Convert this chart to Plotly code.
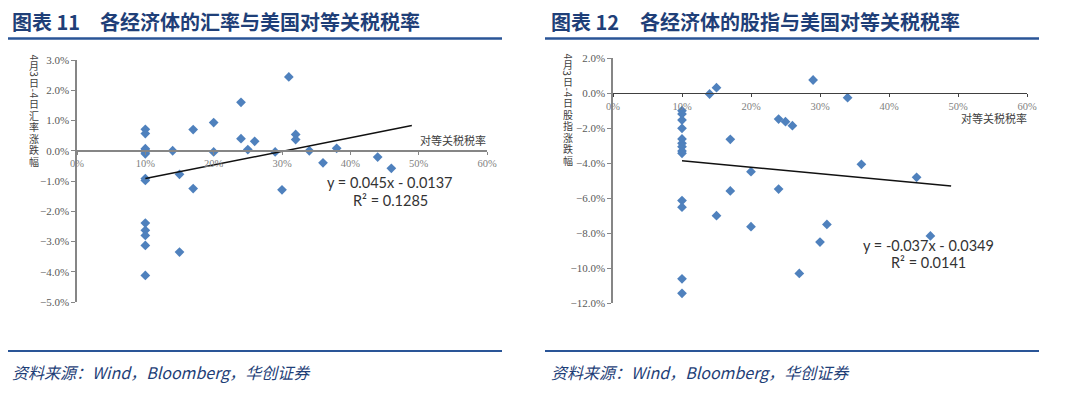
import plotly.graph_objects as go

# page body has an 8px margin: figure pixel = window pixel - 8
OFF = 8
W, H = 1072, 387

# ---------------- data (values in %) ----------------
fx_tariff = [10, 10, 10, 10, 10, 10, 10, 10, 10, 10, 10, 10, 10,
             14, 15, 15, 17, 17, 20, 20, 24, 24, 25, 26,
             29, 30, 31, 32, 32, 34, 36, 38, 44, 46]
fx_change = [0.71, 0.57, 0.07, 0.02, -0.04, -0.10, -0.92, -0.98, -2.39, -2.63, -2.80, -3.13, -4.12,
             0.00, -0.78, -3.35, 0.70, -1.25, 0.93, -0.04, 1.60, 0.40, 0.04, 0.31,
             -0.04, -1.29, 2.44, 0.54, 0.37, 0.00, -0.40, 0.08, -0.21, -0.58]

eq_tariff = [10, 10, 10, 10, 10, 10, 10, 10, 10, 10, 10, 10, 10,
             14, 15, 15, 17, 17, 20, 20, 24, 24, 25, 26, 27,
             29, 30, 31, 34, 36, 44, 46]
eq_change = [-0.99, -1.18, -1.53, -2.00, -2.61, -2.86, -3.05, -3.30, -3.43, -6.13, -6.51, -10.60, -11.43,
             -0.04, 0.32, -6.99, -2.63, -5.58, -4.48, -7.62, -1.47, -5.47, -1.62, -1.85, -10.29,
             0.76, -8.50, -7.49, -0.25, -4.06, -4.80, -8.15]

fx_fit = {"slope": 0.045, "intercept": -0.0137}
eq_fit = {"slope": -0.037, "intercept": -0.0349}
fit_span = [0.10, 0.49]

titles = ["各经济体的汇率与美国对等关税税率", "各经济体的股指与美国对等关税税率"]
title_nums = ["图表 11", "图表 12"]
ytitles = ["4月3日-4日汇率涨跌幅", "4月3日-4日股指涨跌幅"]
xtitle = "对等关税税率"
eq_texts = ["y = 0.045x - 0.0137", "y = -0.037x - 0.0349"]
r2_texts = ["R² = 0.1285", "R² = 0.0141"]
source = "资料来源：Wind，Bloomberg，华创证券"

# ---------------- layout helpers ----------------
def px_x(p):
    return (p - OFF) / W

def px_y(p):
    return 1 - (p - OFF) / H

BLUE = "#4F81BD"
NAVY = "#1F3F78"
RULE = "#2A5597"
AX = "#868686"
TXT = "#404040"

# plot domains (window pixels)
L_x = (77, 487); L_y = (60, 302)
R_x = (613, 1027); R_y = (58.3, 303.3)
L_yr = [-0.05, 0.03]
R_yr = [-0.12, 0.02]

def zero_pos(yr, ydom):
    lo, hi = ydom
    frac = (0 - yr[0]) / (yr[1] - yr[0])
    return lo + frac * (hi - lo)

Ldom_y = [px_y(L_y[1]), px_y(L_y[0])]
Rdom_y = [px_y(R_y[1]), px_y(R_y[0])]

fig = go.Figure()

fx_x = [v / 100 for v in fx_tariff]
fx_y = [v / 100 for v in fx_change]
eq_x = [v / 100 for v in eq_tariff]
eq_y = [v / 100 for v in eq_change]

mk = dict(symbol="diamond", size=7.5, color=BLUE, line=dict(width=0))
fig.add_trace(go.Scatter(x=fx_x, y=fx_y, mode="markers", marker=mk,
                         xaxis="x", yaxis="y", showlegend=False))
fig.add_trace(go.Scatter(x=fit_span,
                         y=[fx_fit["slope"] * v + fx_fit["intercept"] for v in fit_span],
                         mode="lines", line=dict(color="#111111", width=1.5),
                         xaxis="x", yaxis="y", showlegend=False))
fig.add_trace(go.Scatter(x=eq_x, y=eq_y, mode="markers", marker=mk,
                         xaxis="x2", yaxis="y2", showlegend=False))
fig.add_trace(go.Scatter(x=fit_span,
                         y=[eq_fit["slope"] * v + eq_fit["intercept"] for v in fit_span],
                         mode="lines", line=dict(color="#111111", width=1.5),
                         xaxis="x2", yaxis="y2", showlegend=False))

tick_font = dict(family="Liberation Serif", size=11, color="#595959")

def xaxis_cfg(dom, pos, color, width):
    return dict(domain=dom, range=[0, 0.6], dtick=0.1, tickformat=".0%",
                showgrid=False, zeroline=False, showline=True, linecolor=color,
                linewidth=width, ticks="outside", ticklen=3, tickcolor=color,
                tickfont=dict(family="Liberation Serif", size=10.5, color="#7f7f7f"),
                anchor="free", position=pos, fixedrange=True)

def yaxis_cfg(dom, yr, dt, anchor):
    return dict(domain=dom, range=yr, dtick=dt, tickformat=".1%",
                showgrid=False, zeroline=False, showline=True, linecolor=AX,
                linewidth=1.5, ticks="outside", ticklen=4, tickcolor=AX,
                tickfont=tick_font, anchor=anchor, fixedrange=True)

fig.update_layout(
    width=W, height=H,
    margin=dict(l=0, r=0, t=0, b=0, autoexpand=False),
    paper_bgcolor="white", plot_bgcolor="rgba(0,0,0,0)",
    xaxis=xaxis_cfg([px_x(L_x[0]), px_x(L_x[1])], zero_pos(L_yr, Ldom_y), AX, 1.5),
    yaxis=yaxis_cfg(Ldom_y, L_yr, 0.01, "x"),
    xaxis2=xaxis_cfg([px_x(R_x[0]), px_x(R_x[1])], zero_pos(R_yr, Rdom_y), "#404040", 1),
    yaxis2=yaxis_cfg(Rdom_y, R_yr, 0.02, "x2"),
)

ann = []
shapes = []

# titles and rules
for i, (x0, x1) in enumerate([(8, 502), (545, 1039)]):
    xs = 10 if i == 0 else 549
    xt = 98 if i == 0 else 638
    ann.append(dict(x=px_x(xs), y=px_y(22), xref="paper", yref="paper", xanchor="left",
                    yanchor="middle", showarrow=False, text="<b>" + title_nums[i] + "</b>",
                    font=dict(family="Noto Sans CJK SC", size=20, color=NAVY)))
    ann.append(dict(x=px_x(xt), y=px_y(22), xref="paper", yref="paper", xanchor="left",
                    yanchor="middle", showarrow=False, text="<b>" + titles[i] + "</b>",
                    font=dict(family="Noto Sans CJK SC", size=20, color=NAVY)))
    shapes.append(dict(type="line", xref="paper", yref="paper", x0=px_x(x0), x1=px_x(x1),
                       y0=px_y(38.5), y1=px_y(38.5), line=dict(color=RULE, width=2.5)))
    shapes.append(dict(type="line", xref="paper", yref="paper", x0=px_x(x0), x1=px_x(x1),
                       y0=px_y(351), y1=px_y(351), line=dict(color=RULE, width=2)))
    ann.append(dict(x=px_x(xs), y=px_y(372), xref="paper", yref="paper", xanchor="left",
                    yanchor="middle", showarrow=False, text="<i>" + source + "</i>",
                    font=dict(family="Noto Sans CJK SC", size=16, color=NAVY)))

# vertical y-axis titles (stacked characters, digits rotated)
def stacked(title, xc, ystart):
    y = ystart
    for ch in title:
        narrow = ch.isdigit() or ch == "-"
        h = 5.0 if narrow else 11.5
        a = dict(x=px_x(xc), y=px_y(y + h / 2), xref="paper", yref="paper",
                 xanchor="center", yanchor="middle", showarrow=False, text=ch,
                 borderpad=0, font=dict(family="Noto Sans CJK SC", size=10, color=TXT))
        if narrow:
            a.update(textangle=90, width=6, height=11)
        else:
            a.update(height=11)
        ann.append(a)
        y += h

stacked(ytitles[0], 34, 55)
stacked(ytitles[1], 568, 54)

# x-axis titles
ann.append(dict(x=px_x(453), y=px_y(140), xref="paper", yref="paper", xanchor="center",
                yanchor="middle", showarrow=False, text=xtitle,
                font=dict(family="Noto Sans CJK SC", size=11, color=TXT)))
ann.append(dict(x=px_x(994), y=px_y(118), xref="paper", yref="paper", xanchor="center",
                yanchor="middle", showarrow=False, text=xtitle,
                font=dict(family="Noto Sans CJK SC", size=11, color=TXT)))

# equations
for (xc, y1, y2), eq, r2 in zip([(390, 182.5, 200), (928, 245, 262.5)], eq_texts, r2_texts):
    for yy, t in ((y1, eq), (y2, r2)):
        ann.append(dict(x=px_x(xc), y=px_y(yy), xref="paper", yref="paper", xanchor="center",
                        yanchor="middle", showarrow=False, text=t,
                        font=dict(family="Lato", size=14.5, color="#333333")))

fig.update_layout(annotations=ann, shapes=shapes)
fig.write_html("out.html")
